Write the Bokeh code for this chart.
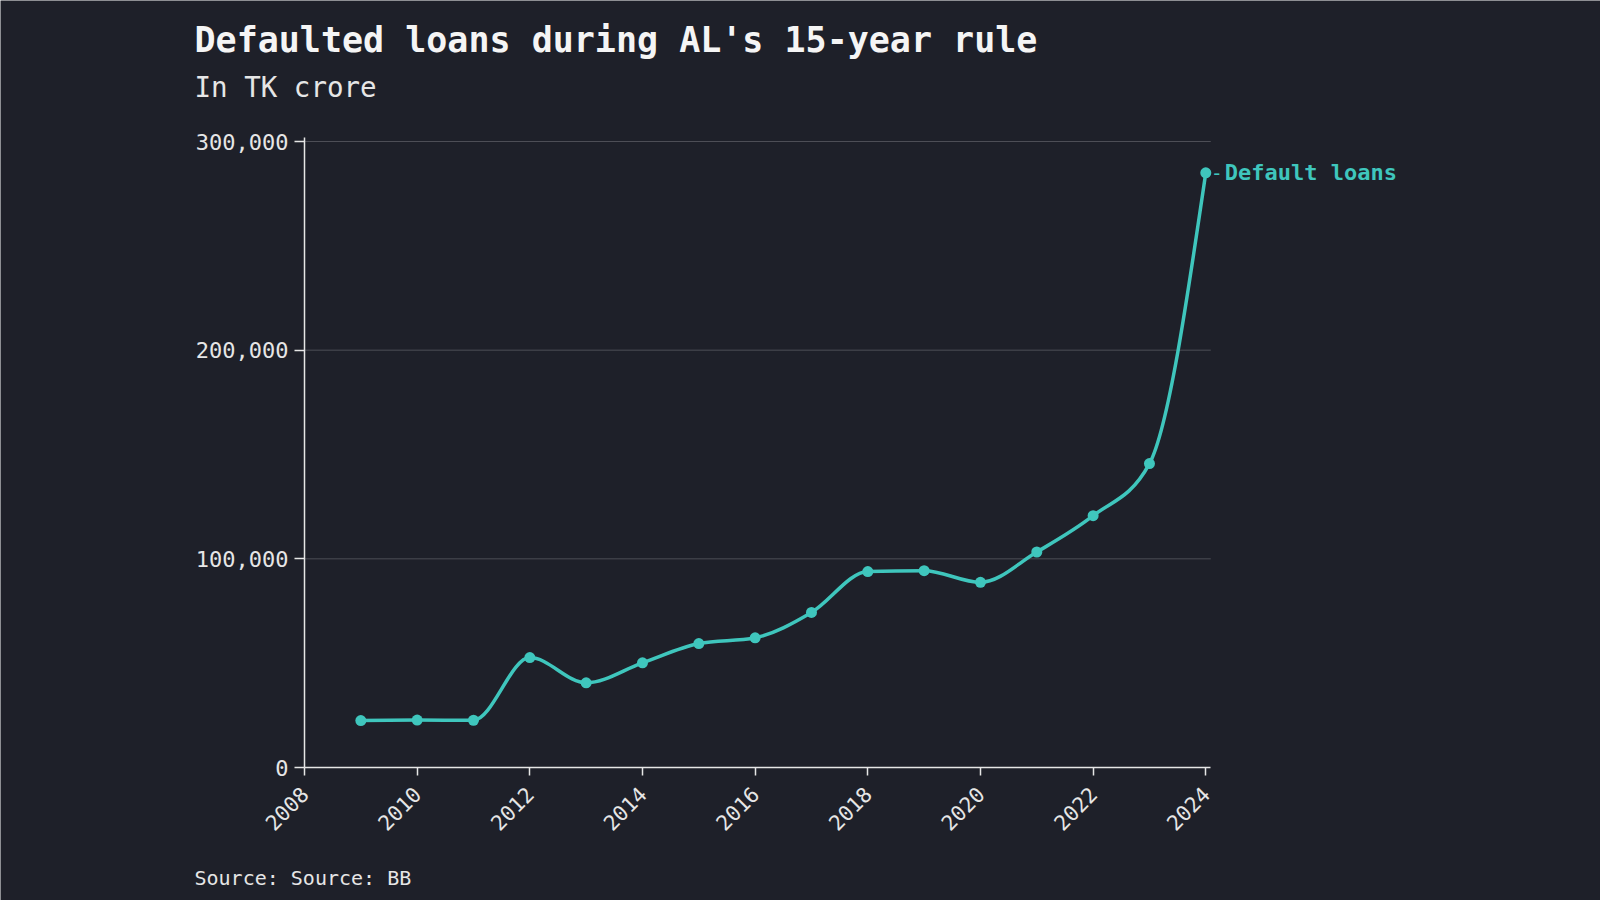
import math
from bokeh.plotting import figure
from bokeh.models import Range1d, FixedTicker, NumeralTickFormatter, ColumnDataSource
from bokeh.core.properties import value
from bokeh.embed import file_html
from bokeh.resources import INLINE

# ---- data ----
years = [2009, 2010, 2011, 2012, 2013, 2014, 2015, 2016, 2017, 2018,
         2019, 2020, 2021, 2022, 2023, 2024]
default_loans = [22480, 22710, 22640, 52700, 40580, 50160, 59410, 62170,
                 74300, 93910, 94330, 88730, 103270, 120660, 145630, 284980]
x_ticks = [2008, 2010, 2012, 2014, 2016, 2018, 2020, 2022, 2024]
y_ticks = [0, 100000, 200000, 300000]
series_name = "Default loans"
title_text = "Defaulted loans during AL's 15-year rule"
subtitle_text = "In TK crore"
source_text = "Source: Source: BB"

# ---- style / layout ----
BG = "#1e2029"
TEAL = "#3fc6bd"
FG = "#e6e6e6"
GRID = "#4d4e56"
MONO = "DejaVu Sans Mono"
W, H = 1600, 900
X0_PX, X_PX_PER_YEAR = 304.0, 56.33      # page x of x_ticks[0], px per year
Y0_PX, YTOP_PX = 767.0, 141.0            # page y of 0 and of y_ticks[-1]
X_START, Y_MAX = x_ticks[0], y_ticks[-1]
Y_PER_PX = Y_MAX / (Y0_PX - YTOP_PX)
X_AXIS_END = x_ticks[-1] + 5 / X_PX_PER_YEAR


def px_x(px):
    return X_START + (px - X0_PX) / X_PX_PER_YEAR


def px_y(py):
    return (Y0_PX - py) * Y_PER_PX


def monotone_bezier(xs, ys):
    """Cubic bezier segments of a monotone-X curve through the points."""
    n = len(xs)
    def sgn(v):
        return -1.0 if v < 0 else 1.0
    m = [0.0] * n
    for i in range(1, n - 1):
        h0 = xs[i] - xs[i - 1]
        h1 = xs[i + 1] - xs[i]
        s0 = (ys[i] - ys[i - 1]) / h0
        s1 = (ys[i + 1] - ys[i]) / h1
        pp = (s0 * h1 + s1 * h0) / (h0 + h1)
        m[i] = (sgn(s0) + sgn(s1)) * min(abs(s0), abs(s1), 0.5 * abs(pp))
    h = xs[1] - xs[0]
    m[0] = (3 * (ys[1] - ys[0]) / h - m[1]) / 2
    h = xs[-1] - xs[-2]
    m[-1] = (3 * (ys[-1] - ys[-2]) / h - m[-2]) / 2
    seg = dict(x0=[], y0=[], x1=[], y1=[], cx0=[], cy0=[], cx1=[], cy1=[])
    for i in range(n - 1):
        dx = (xs[i + 1] - xs[i]) / 3
        seg["x0"].append(xs[i]); seg["y0"].append(ys[i])
        seg["x1"].append(xs[i + 1]); seg["y1"].append(ys[i + 1])
        seg["cx0"].append(xs[i] + dx); seg["cy0"].append(ys[i] + dx * m[i])
        seg["cx1"].append(xs[i + 1] - dx); seg["cy1"].append(ys[i + 1] - dx * m[i + 1])
    return seg


p = figure(width=W, height=H, output_backend="svg", toolbar_location=None,
           x_range=Range1d(px_x(0), px_x(W)), y_range=Range1d(px_y(H), px_y(0)),
           min_border=0, background_fill_color=BG, border_fill_color=BG,
           outline_line_color=None)
p.xgrid.visible = False
p.ygrid.visible = False

# axes fixed inside the full-canvas frame
for ax in (p.xaxis[0], p.yaxis[0]):
    ax.axis_line_color = FG
    ax.axis_line_width = 1.5
    ax.major_tick_line_color = FG
    ax.major_tick_line_width = 1.5
    ax.major_tick_in = 0
    ax.minor_tick_line_color = None
    ax.major_label_text_color = FG
    ax.major_label_text_font = MONO

p.yaxis.fixed_location = x_ticks[0]
p.yaxis.bounds = (y_ticks[0], Y_MAX + 4 * Y_PER_PX)
p.yaxis.ticker = FixedTicker(ticks=y_ticks)
p.yaxis.formatter = NumeralTickFormatter(format="0,0")
p.yaxis.major_tick_out = 10
p.yaxis.major_label_standoff = 6
p.yaxis.major_label_text_font_size = "22px"

p.xaxis.fixed_location = y_ticks[0]
p.xaxis.bounds = (x_ticks[0], X_AXIS_END)
p.xaxis.ticker = FixedTicker(ticks=x_ticks)
p.xaxis.major_tick_out = 8
p.xaxis.major_label_orientation = math.pi / 4
p.xaxis.major_label_standoff = 15
p.xaxis.major_label_text_font_size = "21px"

# horizontal grid lines
grid_y = y_ticks[1:]
p.segment(x0=[x_ticks[0]] * len(grid_y), x1=[X_AXIS_END] * len(grid_y),
          y0=grid_y, y1=grid_y, line_color=GRID, line_width=1)

# line + points
seg = monotone_bezier(years, default_loans)
p.bezier(x0="x0", y0="y0", x1="x1", y1="y1", cx0="cx0", cy0="cy0",
         cx1="cx1", cy1="cy1", source=ColumnDataSource(seg),
         line_color=TEAL, line_width=3.5)
p.scatter(years, default_loans, size=11, fill_color=TEAL, line_color=None)

# series label
p.text(x=[years[-1]], y=[default_loans[-1]], text=["-"], x_offset=11,
       text_align="center", text_baseline="middle", text_color=TEAL,
       text_font=value(MONO), text_font_size="20px")
p.text(x=[years[-1]], y=[default_loans[-1]], text=[series_name], x_offset=19,
       text_baseline="middle", text_color=TEAL, text_font=value(MONO),
       text_font_size="22px", text_font_style="bold")

# title / subtitle / source
p.text(x=[px_x(194)], y=[px_y(39)], text=[title_text], text_color="#f5f5f5",
       text_font=value(MONO), text_font_size="35px", text_font_style="bold",
       text_baseline="alphabetic")
p.text(x=[px_x(194)], y=[px_y(86)], text=[subtitle_text], text_color=FG,
       text_font=value(MONO), text_font_size="27.5px", text_baseline="alphabetic")
p.text(x=[px_x(194)], y=[px_y(877)], text=[source_text], text_color=FG,
       text_font=value(MONO), text_font_size="20px", text_baseline="alphabetic")

open("out.html", "w").write(file_html(p, INLINE))
